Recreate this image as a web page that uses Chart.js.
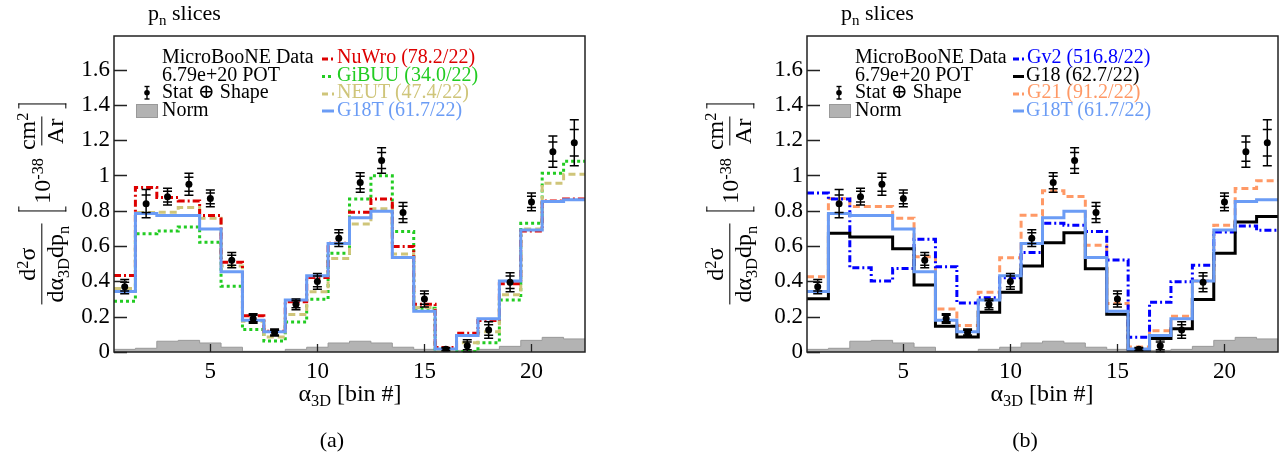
<!DOCTYPE html>
<html><head><meta charset="utf-8">
<script src="https://cdn.jsdelivr.net/npm/chart.js@4.4.1/dist/chart.umd.min.js"></script>
<style>
html,body{margin:0;padding:0;background:#fff;}
#page{position:relative;width:1288px;height:464px;overflow:hidden;font-family:"Liberation Serif","DejaVu Serif",serif;color:#000;background:#fff;}
canvas{position:absolute;top:0;}
.t{position:absolute;white-space:nowrap;font-size:20px;line-height:20px;}
.t22{position:absolute;white-space:nowrap;font-size:22px;line-height:22px;}
sub{font-size:0.68em;vertical-align:-0.32em;line-height:0;}
sup{font-size:0.68em;vertical-align:0.45em;line-height:0;}
.ylab{position:absolute;white-space:nowrap;font-size:24px;line-height:1;display:flex;align-items:center;transform:translate(-50%,-50%) rotate(-90deg);}
.frac{display:inline-flex;flex-direction:column;align-items:center;}
.frac .n{padding:0 2px 1px;line-height:1.05;}
.frac .d{border-top:1.5px solid #000;padding:1px 2px 0;line-height:1.05;}
.brk{display:inline-block;width:5px;height:48px;border:1.5px solid #000;box-sizing:border-box;}
.brk.l{border-right:none;margin:0 3px 0 12px;}
.brk.r{border-left:none;margin-left:2px;}
.xl{position:absolute;width:300px;text-align:center;white-space:nowrap;font-size:24px;line-height:24px;}
.cap{position:absolute;width:100px;text-align:center;font-size:22px;line-height:22px;}
</style></head><body>
<div id="page">
<canvas id="cA" width="644" height="420" style="left:0px"></canvas>
<canvas id="cB" width="644" height="420" style="left:644px"></canvas>

<svg id="lg" width="1288" height="464" style="position:absolute;left:0;top:0;pointer-events:none">
  <line x1="147" y1="86.5" x2="147" y2="99" stroke="#000" stroke-width="1.4"/>
  <line x1="144.5" y1="86.5" x2="149.5" y2="86.5" stroke="#000" stroke-width="1.4"/>
  <line x1="144.5" y1="99" x2="149.5" y2="99" stroke="#000" stroke-width="1.4"/>
  <circle cx="147" cy="92.7" r="2.8" fill="#000"/>
  <rect x="136.5" y="104.5" width="21" height="13" fill="#b3b3b3" stroke="#999" stroke-width="1"/>
  <line x1="322" y1="59" x2="334" y2="59" stroke="#dd0000" stroke-width="3" stroke-dasharray="6,3,2,3"/>
  <line x1="322" y1="76.5" x2="334" y2="76.5" stroke="#22cc22" stroke-width="3" stroke-dasharray="3,3"/>
  <line x1="322" y1="94" x2="334" y2="94" stroke="#cfc57a" stroke-width="3" stroke-dasharray="6,4"/>
  <line x1="322" y1="111" x2="334" y2="111" stroke="#6b9cf5" stroke-width="3"/>
  <line x1="839" y1="86.5" x2="839" y2="99" stroke="#000" stroke-width="1.4"/>
  <line x1="836.5" y1="86.5" x2="841.5" y2="86.5" stroke="#000" stroke-width="1.4"/>
  <line x1="836.5" y1="99" x2="841.5" y2="99" stroke="#000" stroke-width="1.4"/>
  <circle cx="839" cy="92.7" r="2.8" fill="#000"/>
  <rect x="829.5" y="104.5" width="21" height="13" fill="#b3b3b3" stroke="#999" stroke-width="1"/>
  <line x1="1013" y1="59" x2="1024" y2="59" stroke="#0000ff" stroke-width="3" stroke-dasharray="6,3,2,3"/>
  <line x1="1013" y1="76.5" x2="1024" y2="76.5" stroke="#000" stroke-width="3"/>
  <line x1="1013" y1="94" x2="1024" y2="94" stroke="#ff9966" stroke-width="3" stroke-dasharray="6,3,2,3"/>
  <line x1="1013" y1="111" x2="1024" y2="111" stroke="#6b9cf5" stroke-width="3"/>
</svg>

<div class="t22" style="left:148px;top:1.5px">p<sub>n</sub> slices</div>
<div class="t22" style="left:841px;top:1.5px">p<sub>n</sub> slices</div>

<div class="t" style="left:162px;top:46px">MicroBooNE Data</div>
<div class="t" style="left:162px;top:63.5px">6.79e+20 POT</div>
<div class="t" style="left:162px;top:81px">Stat ⊕ Shape</div>
<div class="t" style="left:162px;top:98.5px">Norm</div>
<div class="t" style="left:337px;top:46px;color:#dd0000">NuWro (78.2/22)</div>
<div class="t" style="left:337px;top:63.5px;color:#22cc22">GiBUU (34.0/22)</div>
<div class="t" style="left:337px;top:81px;color:#cfc57a">NEUT (47.4/22)</div>
<div class="t" style="left:337px;top:98.5px;color:#6b9cf5">G18T (61.7/22)</div>

<div class="t" style="left:855px;top:46px">MicroBooNE Data</div>
<div class="t" style="left:855px;top:63.5px">6.79e+20 POT</div>
<div class="t" style="left:855px;top:81px">Stat ⊕ Shape</div>
<div class="t" style="left:855px;top:98.5px">Norm</div>
<div class="t" style="left:1027px;top:46px;color:#0000ff">Gv2 (516.8/22)</div>
<div class="t" style="left:1026px;top:63.5px;color:#000">G18 (62.7/22)</div>
<div class="t" style="left:1027px;top:81px;color:#ff9966">G21 (91.2/22)</div>
<div class="t" style="left:1026px;top:98.5px;color:#6b9cf5">G18T (61.7/22)</div>

<div class="ylab" style="left:42px;top:204px">
  <span class="frac"><span class="n">d<sup>2</sup>σ</span><span class="d">dα<sub>3D</sub>dp<sub>n</sub></span></span>
  <span class="brk l"></span><span>10<sup>-38</sup>&nbsp;</span><span class="frac"><span class="n">cm<sup>2</sup></span><span class="d">Ar</span></span><span class="brk r"></span>
</div>
<div class="ylab" style="left:730px;top:204px">
  <span class="frac"><span class="n">d<sup>2</sup>σ</span><span class="d">dα<sub>3D</sub>dp<sub>n</sub></span></span>
  <span class="brk l"></span><span>10<sup>-38</sup>&nbsp;</span><span class="frac"><span class="n">cm<sup>2</sup></span><span class="d">Ar</span></span><span class="brk r"></span>
</div>

<div class="xl" style="left:200px;top:381px">α<sub>3D</sub> [bin #]</div>
<div class="xl" style="left:892px;top:381px">α<sub>3D</sub> [bin #]</div>

<div class="cap" style="left:282px;top:429px">(a)</div>
<div class="cap" style="left:975px;top:429px">(b)</div>
</div>

<script>
// ---------- data ----------
const bins = [1,2,3,4,5,6,7,8,9,10,11,12,13,14,15,16,17,18,19,20,21,22];
const dataVal = [0.37,0.84,0.88,0.95,0.87,0.52,0.19,0.11,0.27,0.40,0.645,0.96,1.085,0.79,0.30,0.015,0.035,0.125,0.395,0.85,1.135,1.185];
const statErr = [0.025,0.05,0.03,0.04,0.03,0.028,0.018,0.013,0.02,0.03,0.03,0.035,0.045,0.035,0.03,0.007,0.022,0.03,0.035,0.032,0.054,0.075];
const totErr  = [0.04,0.08,0.047,0.062,0.047,0.043,0.027,0.02,0.03,0.045,0.047,0.055,0.072,0.057,0.045,0.01,0.034,0.047,0.054,0.05,0.088,0.13];
const normUnc = [0.015,0.021,0.061,0.066,0.051,0.027,0.004,0.004,0.015,0.027,0.051,0.061,0.051,0.027,0.015,0.004,0.009,0.015,0.032,0.066,0.083,0.074];
const nuwro = [0.434,0.932,0.875,0.856,0.773,0.508,0.205,0.117,0.284,0.422,0.616,0.792,0.866,0.598,0.271,0.025,0.106,0.178,0.386,0.686,0.856,0.867];
const gibuu = [0.288,0.670,0.686,0.708,0.621,0.373,0.127,0.063,0.170,0.299,0.559,0.866,0.998,0.682,0.248,0.003,0.003,0.053,0.295,0.729,1.013,1.080];
const neut  = [0.360,0.790,0.792,0.818,0.758,0.487,0.174,0.085,0.212,0.341,0.530,0.725,0.812,0.555,0.252,0.009,0.053,0.114,0.324,0.697,0.956,1.007];
const g18t  = [0.343,0.784,0.773,0.773,0.697,0.455,0.180,0.114,0.294,0.432,0.614,0.761,0.797,0.536,0.231,0.017,0.093,0.189,0.402,0.691,0.852,0.862];
const gv2   = [0.900,0.866,0.477,0.402,0.473,0.638,0.483,0.278,0.307,0.420,0.563,0.729,0.718,0.682,0.521,0.083,0.282,0.398,0.491,0.680,0.714,0.689];
const g18   = [0.301,0.672,0.652,0.652,0.585,0.379,0.146,0.085,0.225,0.339,0.487,0.619,0.676,0.472,0.214,0.011,0.076,0.131,0.297,0.559,0.737,0.767];
const g21   = [0.426,0.869,0.824,0.824,0.758,0.540,0.244,0.150,0.339,0.534,0.775,0.913,0.881,0.604,0.275,0.028,0.121,0.203,0.402,0.718,0.926,0.970];
const yTicks = [0,0.2,0.4,0.6,0.8,1,1.2,1.4,1.6];
const yTickLabels = ['0','0.2','0.4','0.6','0.8','1','1.2','1.4','1.6'];
const xTicks = [5,10,15,20];
const xTickLabels = ['5','10','15','20'];

const FONT = '"Liberation Serif","DejaVu Serif",serif';

function histPoints(vals){
  const pts = bins.map((b,i)=>({x:b-0.5,y:vals[i]}));
  pts.push({x:bins[bins.length-1]+0.5,y:vals[vals.length-1]});
  return pts;
}
function histDS(vals,color,dash,width){
  return {type:'line',data:histPoints(vals),borderColor:color,borderWidth:width||3,borderDash:dash||[],
    stepped:'before',pointRadius:0,fill:false,tension:0,borderCapStyle:'butt'};
}

const framePlugin = {
  id:'frameTicks',
  afterDatasetsDraw(chart){
    const {ctx, chartArea:a, scales} = chart;
    ctx.save();
    const ys = scales.y;
    const meta = chart.getDatasetMeta(0);
    ctx.strokeStyle='#000'; ctx.lineWidth=1.5;
    meta.data.forEach((pt,i)=>{
      const x = pt.x;
      const yt0 = ys.getPixelForValue(dataVal[i]-totErr[i]);
      const yt1 = ys.getPixelForValue(dataVal[i]+totErr[i]);
      const ys0 = ys.getPixelForValue(dataVal[i]-statErr[i]);
      const ys1 = ys.getPixelForValue(dataVal[i]+statErr[i]);
      ctx.beginPath();
      ctx.moveTo(x,yt0); ctx.lineTo(x,yt1);
      [yt0,yt1,ys0,ys1].forEach(yy=>{ctx.moveTo(x-4.5,yy);ctx.lineTo(x+4.5,yy);});
      ctx.stroke();
    });
    ctx.strokeStyle='#222'; ctx.lineWidth=1.3;
    ctx.beginPath();
    yTicks.forEach(v=>{const y=Math.round(ys.getPixelForValue(v))+0.5; ctx.moveTo(a.left,y); ctx.lineTo(a.left+13,y);});
    xTicks.forEach(v=>{const x=Math.round(scales.x.getPixelForValue(v))+0.5; ctx.moveTo(x,a.bottom); ctx.lineTo(x,a.bottom-8);});
    ctx.stroke();
    ctx.lineWidth=1.5; ctx.strokeStyle='#222';
    ctx.strokeRect(a.left,a.top,a.right-a.left,a.bottom-a.top);
    ctx.restore();
  }
};

function makeChart(id, models, yAxisW, rightPad){
  const datasets = [
    {type:'line',data:bins.map((b,i)=>({x:b,y:dataVal[i]})),showLine:false,pointRadius:3.5,pointBackgroundColor:'#000',pointBorderColor:'#000',pointBorderWidth:0},
    ...models,
    {type:'line',data:histPoints(normUnc),stepped:'before',pointRadius:0,fill:'origin',backgroundColor:'#b3b3b3',borderColor:'#9a9a9a',borderWidth:1}
  ];
  return new Chart(document.getElementById(id),{
    type:'line',
    data:{datasets},
    options:{
      responsive:false,animation:false,devicePixelRatio:1,
      layout:{padding:{left:0,right:rightPad,top:36,bottom:0}},
      plugins:{legend:{display:false},tooltip:{enabled:false},title:{display:false}},
      scales:{
        x:{type:'linear',min:0.5,max:22.5,
          afterBuildTicks:s=>{s.ticks=xTicks.map(v=>({value:v}));},
          ticks:{callback:(v,i)=>xTickLabels[i],autoSkip:false,maxRotation:0,padding:6,color:'#000',font:{family:FONT,size:23}},
          grid:{display:false,drawTicks:false},border:{display:false},
          afterFit:s=>{s.height=68;}},
        y:{type:'linear',min:0,max:1.79,
          afterBuildTicks:s=>{s.ticks=yTicks.map(v=>({value:v}));},
          ticks:{callback:(v,i)=>yTickLabels[i],padding:4,color:'#000',font:{family:FONT,size:23}},
          grid:{display:false,drawTicks:false},border:{display:false},
          afterFit:s=>{s.width=yAxisW;}}
      }
    },
    plugins:[framePlugin]
  });
}

makeChart('cA',[
  histDS(g18t,'#6b9cf5',[],3),
  histDS(nuwro,'#dd0000',[7,3,2,3],3),
  histDS(neut,'#cfc57a',[7,4],3),
  histDS(gibuu,'#22cc22',[3,3],3)
],114,59);

makeChart('cB',[
  histDS(g18t,'#6b9cf5',[],3),
  histDS(g18,'#000000',[],3),
  histDS(gv2,'#0000ff',[7,3,2,3],3),
  histDS(g21,'#ff9966',[7,4],3)
],163,10);
</script>
</body></html>
